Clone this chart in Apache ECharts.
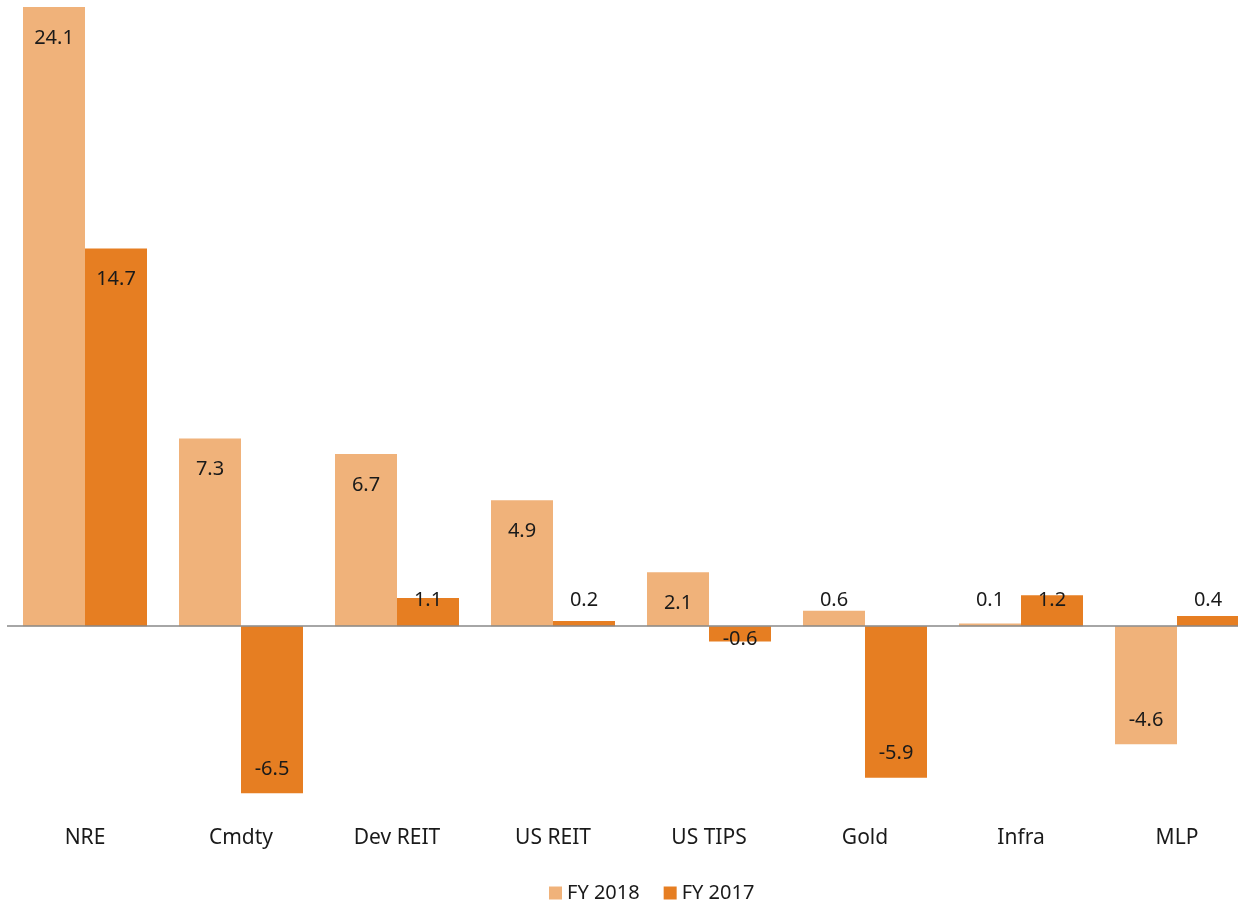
<!DOCTYPE html>
<html>
<head>
<meta charset="utf-8">
<title>Real asset returns</title>
<script src="https://cdn.jsdelivr.net/npm/echarts@6/dist/echarts.min.js"></script>
<style>
  html, body { margin: 0; padding: 0; background: #fff; }
  #chart { width: 1238px; height: 904px; }
</style>
</head>
<body>
<div id="chart"></div>
<script>
var categories = ['NRE', 'Cmdty', 'Dev REIT', 'US REIT', 'US TIPS', 'Gold', 'Infra', 'MLP'];
var fy2018 = [24.1, 7.3, 6.7, 4.9, 2.1, 0.6, 0.1, -4.6];
var fy2017 = [14.7, -6.5, 1.1, 0.2, -0.6, -5.9, 1.2, 0.4];

var FONT = '"Noto Sans", sans-serif';

// label placement roughly like Excel's "inside end"
function withLabels(values) {
  return values.map(function (v) {
    var label;
    if (v >= 1.5) label = { position: 'insideTop', distance: 21 };
    else if (v >= 0) label = { position: 'insideBottom', distance: 16 };
    else if (v > -1.5) label = { position: 'insideTop', distance: 3 };
    else label = { position: 'insideBottom', distance: 14 };
    return { value: v, label: label };
  });
}

var chart = echarts.init(document.getElementById('chart'), null, { renderer: 'canvas' });

var labelBase = {
  show: true,
  color: '#1a1a1a',
  fontFamily: FONT,
  fontSize: 20,
  formatter: function (p) { return p.value.toFixed(1); }
};

chart.setOption({
  animation: false,
  color: ['#F0B27A', '#E67E22'],
  grid: { left: 7, width: 1248, top: 7, bottom: 98, containLabel: false, outerBoundsMode: 'none' },
  legend: {
    top: 878,
    left: 544,
    itemWidth: 13,
    itemHeight: 13,
    itemGap: 24,
    icon: 'rect',
    textStyle: { fontFamily: FONT, fontSize: 20, color: '#1a1a1a' },
    data: ['FY 2018', 'FY 2017']
  },
  xAxis: {
    type: 'category',
    data: categories,
    axisLine: { show: false, onZero: false },
    axisTick: { show: false },
    axisLabel: { margin: 22, fontFamily: FONT, fontSize: 21, color: '#1a1a1a' }
  },
  yAxis: {
    type: 'value',
    min: -7,
    max: 24.1,
    show: false,
    splitLine: { show: false }
  },
  series: [
    {
      name: 'FY 2018',
      type: 'bar',
      barWidth: 62,
      barGap: 0,
      label: labelBase,
      data: withLabels(fy2018),
      markLine: {
        silent: true,
        symbol: 'none',
        label: { show: false },
        lineStyle: { color: '#888888', width: 1.5, type: 'solid' },
        data: [{ yAxis: 0 }]
      },
      z: 2
    },
    {
      name: 'FY 2017',
      type: 'bar',
      barWidth: 62,
      barGap: 0,
      label: labelBase,
      data: withLabels(fy2017),
      z: 2
    }
  ]
});
window.addEventListener('resize', function () { chart.resize(); });
</script>
</body>
</html>
